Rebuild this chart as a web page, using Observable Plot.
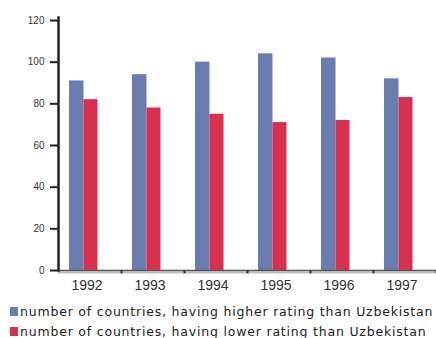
<!DOCTYPE html>
<html>
<head>
<meta charset="utf-8">
<script src="https://cdn.jsdelivr.net/npm/d3@7"></script>
<script src="https://cdn.jsdelivr.net/npm/@observablehq/plot@0.6"></script>
<style>
  html, body { margin: 0; padding: 0; background: #fff; }
  #chart svg { display: block; }
  .legend { font-family: "DejaVu Sans", Verdana, sans-serif; font-size: 12.5px; letter-spacing: 0.8px; color: #222; padding: 3px 0 0 10px; }
  .legend .item { display: flex; align-items: center; height: 20px; white-space: nowrap; }
  .legend .swatch { width: 8px; height: 9px; margin-right: 2px; flex: none; }
</style>
</head>
<body>
<div id="chart"></div>
<script>
// Years on the horizontal axis
const years = ["1992", "1993", "1994", "1995", "1996", "1997"];
// Number of countries rated above Uzbekistan
const higher = [91, 94, 100, 104, 102, 92];
// Number of countries rated below Uzbekistan
const lower = [82, 78, 75, 71, 72, 83];
// Series names and colours
const seriesNames = [
  "number of countries, having higher rating than Uzbekistan",
  "number of countries, having lower rating than Uzbekistan"
];
const seriesColors = ["#6a7db1", "#d8304f"];
// Tick values on the vertical axis
const yTicks = [0, 20, 40, 60, 80, 100, 120];

const rows = years.map((year, i) => ({year, higher: higher[i], lower: lower[i]}));

const chart = Plot.plot({
  width: 436,
  height: 298,
  marginLeft: 58,
  marginRight: 0,
  marginTop: 20,
  marginBottom: 28,
  style: {fontFamily: "'Liberation Sans', Arial, sans-serif", color: "#333", background: "#fff"},
  x: {domain: years, padding: 0, label: null},
  y: {domain: [0, 120], label: null},
  marks: [
    Plot.barY(rows, {x: "year", y: "higher", fill: seriesColors[0], insetLeft: 11, insetRight: 37.5}),
    Plot.barY(rows, {x: "year", y: "lower", fill: seriesColors[1], insetLeft: 25.5, insetRight: 23.5}),
    // baseline with a soft shadow under it
    Plot.ruleY([0], {stroke: "#bbb", strokeWidth: 2, dy: 2}),
    Plot.ruleY([0], {stroke: "#555", strokeWidth: 1.5}),
    // small marks at the boundaries between years
    Plot.ruleX(years, {x: d => d, dx: 31.5, y1: 0, y2: -1.6, stroke: "#333", strokeWidth: 2}),
    Plot.frame({anchor: "left", stroke: "#222", strokeWidth: 2.5, insetTop: -3}),
    Plot.axisY({ticks: yTicks, tickSize: 8, tickPadding: 6, fontSize: 10, stroke: "#222", strokeWidth: 2, fill: "#333", label: null}),
    Plot.axisX({tickSize: 0, tickPadding: 10, fontSize: 14, dx: -3, fill: "#333", label: null})
  ]
});

document.getElementById("chart").appendChild(chart);

// Legend below the chart
const legend = d3.select("#chart").append("div").attr("class", "legend");
const items = legend.selectAll(".item").data(seriesNames).join("div").attr("class", "item");
items.append("span").attr("class", "swatch").style("background", (d, i) => seriesColors[i]);
items.append("span").text(d => d);
</script>
</body>
</html>
